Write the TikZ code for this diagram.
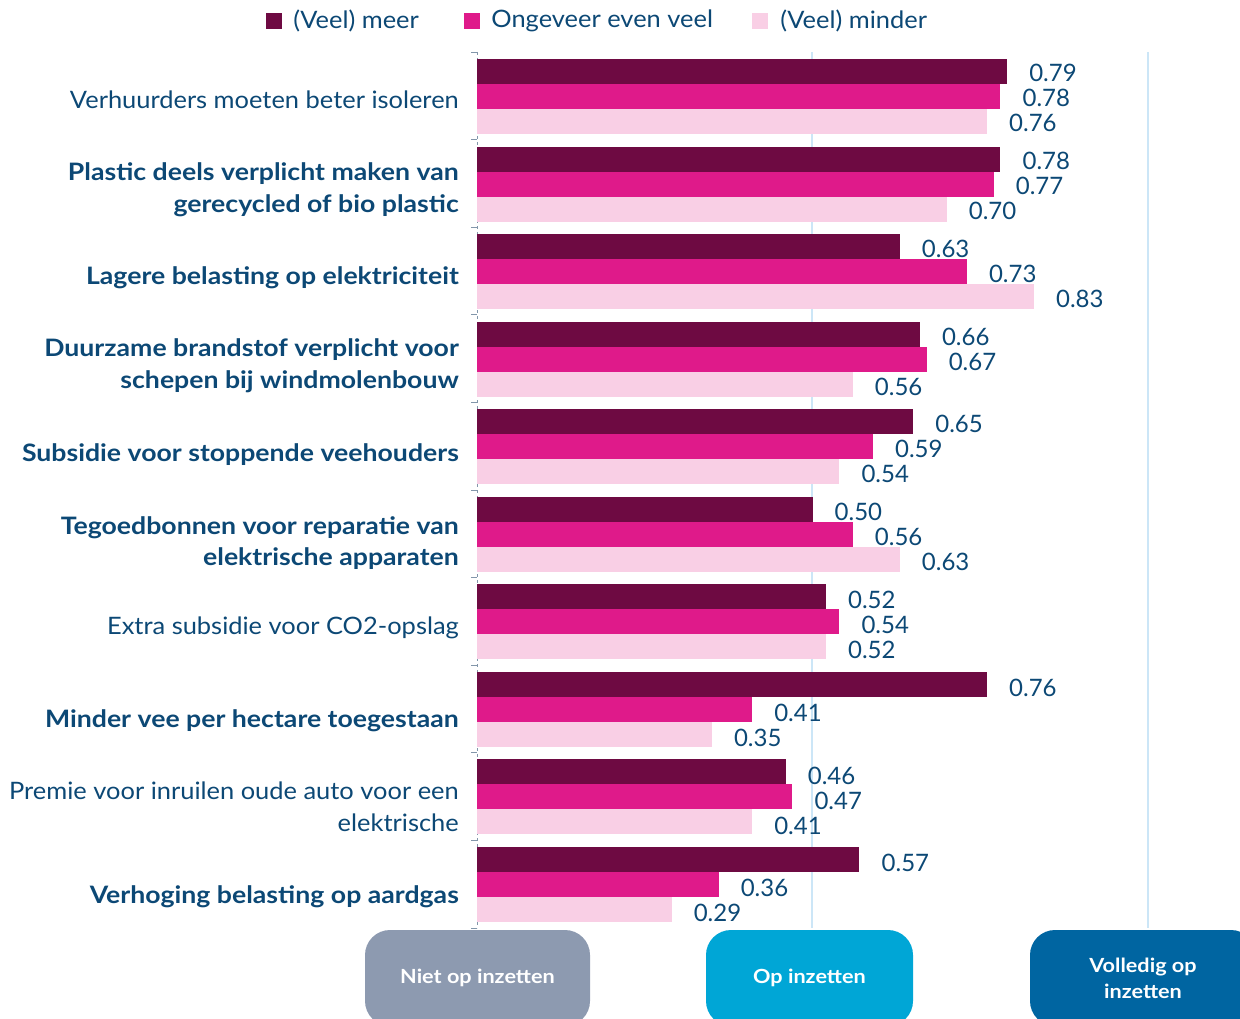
\documentclass[tikz,border=0pt]{standalone}
\usepackage{fontspec}
\setmainfont{Lato}[UprightFeatures={FakeStretch=1.06}, BoldFeatures={FakeStretch=1.11}]
\newfontfamily\cijfers{Lato}
\usetikzlibrary{positioning}

\definecolor{meer}{RGB}{110,10,66}
\definecolor{gelijk}{RGB}{223,26,138}
\definecolor{minder}{RGB}{249,207,229}
\definecolor{tekst}{RGB}{12,72,117}
\definecolor{raster}{RGB}{204,230,247}
\definecolor{as}{RGB}{130,150,170}
\definecolor{knopgrijs}{RGB}{141,154,176}
\definecolor{knopcyaan}{RGB}{0,166,214}
\definecolor{knopblauw}{RGB}{0,101,161}

\tikzset{
    catnorm/.style={anchor=base east, align=right, text=tekst, inner sep=0pt,
        font=\fontsize{24}{32}\selectfont},
    catbold/.style={catnorm, font=\fontsize{24}{31.5}\selectfont\bfseries},
    waarde/.style={anchor=west, text=tekst, inner sep=0pt,
        font=\fontsize{24}{28}\selectfont\cijfers},
    legvak/.style={minimum size=16pt, inner sep=0pt},
    legtekst/.style={text=tekst, inner sep=0pt, font=\fontsize{24}{28}\selectfont},
    knop/.style={rounded corners=25pt, text=white, align=center, minimum height=96pt,
        font=\fontsize{19.5}{26}\selectfont\bfseries}
}

\begin{document}
\begin{tikzpicture}[x=1pt, y=-1pt]
    \useasboundingbox (0,0) rectangle (1240,1019);

    % raster en as
    \draw[raster, line width=1.5pt] (812,52) -- (812,928);
    \draw[raster, line width=1.5pt] (1148,52) -- (1148,928);
    \draw[as, dashed, line width=0.8pt] (477,52) -- (477,928);
    \foreach \k in {0,...,10} {
        \draw[as, line width=0.8pt] (471,52+87.6*\k) -- (477,52+87.6*\k);
    }

    % legenda
    \node[legvak, fill=meer] (vakmeer) at (274,21) {};
    \node[legtekst, right=11pt of vakmeer] (legmeer) {(Veel) meer};
    \node[legvak, fill=gelijk] (vakgelijk) at (472,21) {};
    \node[legtekst, right=11pt of vakgelijk] (leggelijk) {Ongeveer even veel};
    \node[legvak, fill=minder] (vakminder) at (760,21) {};
    \node[legtekst, right=12pt of vakminder] (legminder) {(Veel) minder};

    \foreach \lab/\st/\ly/\a/\b/\c [count=\k from 0] in {
        {Verhuurders moeten beter isoleren}/catnorm/108.3/0.79/0.78/0.76,
        {Plastic deels verplicht maken van\\gerecycled of bio plastic}/catbold/124.6/0.78/0.77/0.70,
        {Lagere belasting op elektriciteit}/catbold/108.9/0.63/0.73/0.83,
        {Duurzame brandstof verplicht voor\\schepen bij windmolenbouw}/catbold/125.5/0.66/0.67/0.56,
        {Subsidie voor stoppende veehouders}/catbold/111.5/0.65/0.59/0.54,
        {Tegoedbonnen voor reparatie van\\elektrische apparaten}/catbold/127.7/0.50/0.56/0.63,
        {Extra subsidie voor CO2-opslag}/catnorm/108.9/0.52/0.54/0.52,
        {Minder vee per hectare toegestaan}/catbold/114.8/0.76/0.41/0.35,
        {Premie voor inruilen oude auto voor een\\elektrische}/catnorm/131.5/0.46/0.47/0.41,
        {Verhoging belasting op aardgas}/catbold/115.3/0.57/0.36/0.29
    } {
        \begin{scope}[yshift=-87.56*\k]
            \fill[meer] (477,59) rectangle (477+671*\a,84);
            \fill[gelijk] (477,84) rectangle (477+671*\b,109);
            \fill[minder] (477,109) rectangle (477+671*\c,134);
            \node[\st] (cat\k) at (459,\ly) {\lab};
            \node[waarde] (meer\k) at (499+671*\a,73+0.25*\k) {\a};
            \node[waarde] (gelijk\k) at (499+671*\b,98+0.25*\k) {\b};
            \node[waarde] (minder\k) at (499+671*\c,123+0.25*\k) {\c};
        \end{scope}
    }

    % knoppen
    \node[knop, fill=knopgrijs, minimum width=225pt] (niet) at (477.5,978) {Niet op inzetten};
    \node[knop, fill=knopcyaan, minimum width=207pt] (op) at (809.5,978) {Op inzetten};
    \node[knop, fill=knopblauw, minimum width=226pt] (volledig) at (1143,978) {Volledig op\\inzetten};
\end{tikzpicture}
\end{document}
